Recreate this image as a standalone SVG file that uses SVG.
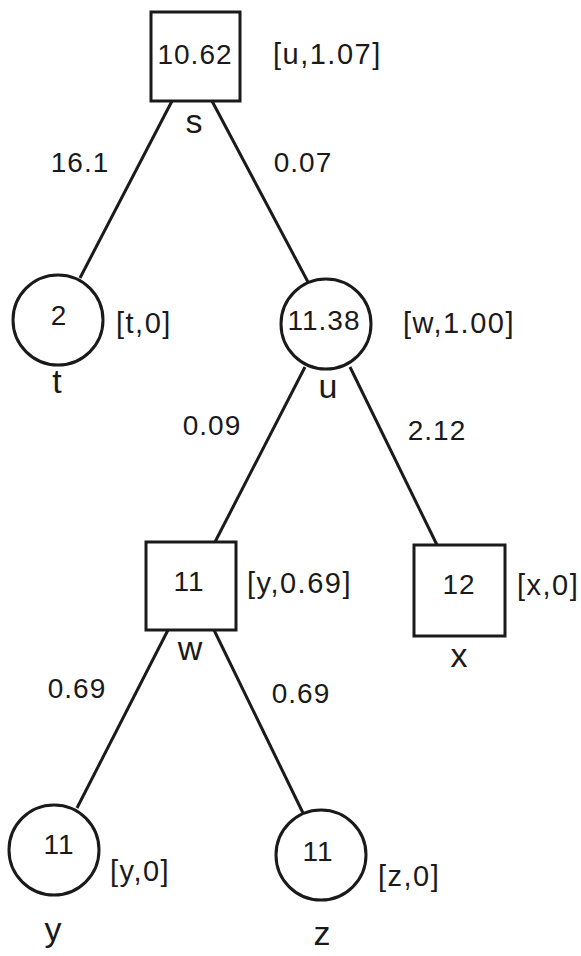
<svg xmlns="http://www.w3.org/2000/svg" width="581" height="956" viewBox="0 0 581 956">
<style>
.shape{fill:none;stroke:#1a1a1a;stroke-width:3}
.edge{stroke:#1a1a1a;stroke-width:3;fill:none}
text{font-family:"Liberation Sans",Arial,Helvetica,sans-serif;fill:#1a1a1a}
.val{font-size:28px;letter-spacing:1px;text-anchor:middle}
.br{font-size:29px;letter-spacing:1.5px}
.nm{font-size:34px;text-anchor:middle}
</style>
<rect width="581" height="956" fill="#ffffff"/>
<g id="connectors">
  <line class="edge" x1="172" y1="101" x2="80" y2="278"/>
  <line class="edge" x1="212" y1="101" x2="308" y2="282"/>
  <line class="edge" x1="305" y1="367" x2="215" y2="542"/>
  <line class="edge" x1="350" y1="367" x2="437" y2="545"/>
  <line class="edge" x1="168" y1="630" x2="77" y2="808"/>
  <line class="edge" x1="214" y1="630" x2="303" y2="813"/>
  <text class="val" x="80" y="172">16.1</text>
  <text class="val" x="303" y="172">0.07</text>
  <text class="val" x="212" y="435">0.09</text>
  <text class="val" x="437" y="440">2.12</text>
  <text class="val" x="77" y="698">0.69</text>
  <text class="val" x="301" y="703">0.69</text>
</g>
<g id="node-s">
  <rect class="shape" x="151" y="12" width="89" height="89"/>
  <text class="val" x="195" y="64">10.62</text>
  <text class="br" x="273" y="64">[u,1.07]</text>
  <text class="nm" x="194" y="133">s</text>
</g>
<g id="node-t">
  <circle class="shape" cx="58" cy="320" r="45"/>
  <text class="val" x="59" y="325">2</text>
  <text class="br" x="116" y="333">[t,0]</text>
  <text class="nm" x="57" y="393">t</text>
</g>
<g id="node-u">
  <circle class="shape" cx="326" cy="324" r="45"/>
  <text class="val" x="324" y="330">11.38</text>
  <text class="br" x="403" y="333">[w,1.00]</text>
  <text class="nm" x="328" y="398">u</text>
</g>
<g id="node-w">
  <rect class="shape" x="146" y="542" width="90" height="88"/>
  <text class="val" x="189" y="591">11</text>
  <text class="br" x="247" y="593">[y,0.69]</text>
  <text class="nm" x="190" y="660">w</text>
</g>
<g id="node-x">
  <rect class="shape" x="414" y="545" width="91" height="91"/>
  <text class="val" x="459" y="594">12</text>
  <text class="br" x="517" y="595">[x,0]</text>
  <text class="nm" x="459" y="667">x</text>
</g>
<g id="node-y">
  <circle class="shape" cx="54" cy="850" r="45"/>
  <text class="val" x="59" y="854">11</text>
  <text class="br" x="110" y="881">[y,0]</text>
  <text class="nm" x="53" y="941">y</text>
</g>
<g id="node-z">
  <circle class="shape" cx="321" cy="855" r="45"/>
  <text class="val" x="318" y="861">11</text>
  <text class="br" x="378" y="886">[z,0]</text>
  <text class="nm" x="322" y="945">z</text>
</g>
</svg>
